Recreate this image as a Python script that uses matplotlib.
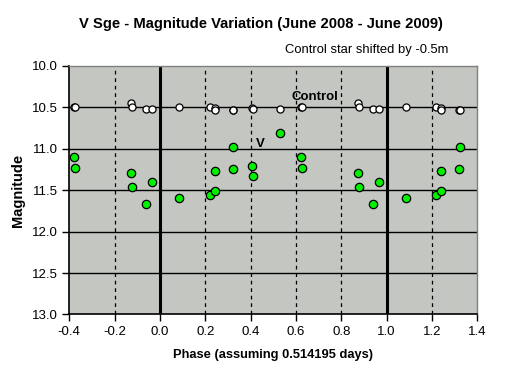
import matplotlib
matplotlib.use("Agg")
import matplotlib.pyplot as plt
import numpy as np

# ----------------------------------------------
# Dados (fase no intervalo [0, 1))
# ----------------------------------------------
fase = [0.084, 0.219, 0.241, 0.241, 0.321, 0.323, 0.405, 0.409,
        0.529, 0.622, 0.627, 0.872, 0.878, 0.938, 0.966]
mag_v = [11.60, 11.56, 11.51, 11.27, 11.25, 10.98, 11.21, 11.33,
         10.81, 11.10, 11.23, 11.30, 11.46, 11.67, 11.40]
mag_controle = [10.50, 10.50, 10.51, 10.54, 10.53, 10.53, 10.51, 10.52,
                10.52, 10.50, 10.50, 10.45, 10.50, 10.52, 10.52]

x_ticks = [-0.4, -0.2, 0.0, 0.2, 0.4, 0.6, 0.8, 1.0, 1.2, 1.4]
y_ticks = [10.0, 10.5, 11.0, 11.5, 12.0, 12.5, 13.0]

# Repete o ciclo (fase-1 e fase+1) dentro da janela -0.4 .. 1.4
fase = np.array(fase)
x_all = np.concatenate([fase - 1, fase, fase + 1])
v_all = np.concatenate([mag_v] * 3)
c_all = np.concatenate([mag_controle] * 3)
dentro = (x_all >= -0.4) & (x_all <= 1.4)

plt.rcParams['font.family'] = ['Liberation Sans', 'DejaVu Sans']

fig = plt.figure(figsize=(5.19, 3.76), dpi=100)
ax = fig.add_axes([0.1335, 0.1636, 0.786, 0.662])
ax.set_facecolor('#c4c6c2')

# Grade: horizontais sólidas, verticais tracejadas, 0 e 1 grossas
for y in y_ticks[1:-1]:
    ax.axhline(y, color='black', lw=1.0, zorder=1)
for x in x_ticks[1:-1]:
    if x in (0.0, 1.0):
        ax.axvline(x, color='black', lw=2.2, zorder=1)
    else:
        ax.axvline(x, color='black', lw=0.9, ls=(0, (3, 3)), zorder=1)

ax.scatter(x_all[dentro], c_all[dentro], s=26, marker='o', c='white',
           edgecolors='black', linewidths=0.9, zorder=3)
ax.scatter(x_all[dentro], v_all[dentro], s=36, marker='o', c='#00f000',
           edgecolors='black', linewidths=0.9, zorder=3)

ax.set_xlim(-0.4, 1.4)
ax.set_ylim(13.0, 10.0)
ax.set_xticks(x_ticks)
ax.set_yticks(y_ticks)
ax.set_xticklabels([f"{v:.1f}" for v in x_ticks])
ax.set_yticklabels([f"{v:.1f}" for v in y_ticks])
ax.tick_params(direction='out', length=5, width=1, labelsize=9.5)

for s in ('top', 'right'):
    ax.spines[s].set_color('#808080')
    ax.spines[s].set_linewidth(1)
for s in ('left', 'bottom'):
    ax.spines[s].set_linewidth(1.2)

ax.text(0.582, 10.45, "Control", fontsize=9.5, fontweight='bold', ha='left', va='bottom')
ax.text(0.445, 10.94, "V", fontsize=9.5, fontweight='bold', ha='center', va='center')

fig.text(0.503, 0.935, "V Sge - Magnitude Variation (June 2008 - June 2009)",
         ha='center', va='center', fontsize=10.6, fontweight='bold')
fig.text(0.549, 0.867, "Control star shifted by -0.5m", ha='left', va='center', fontsize=9.4)
ax.set_xlabel("Phase (assuming 0.514195 days)", fontsize=9.3, fontweight='bold', labelpad=8)
ax.set_ylabel("Magnitude", fontsize=10.5, fontweight='bold', labelpad=5)

fig.savefig("out.png", dpi=100)
